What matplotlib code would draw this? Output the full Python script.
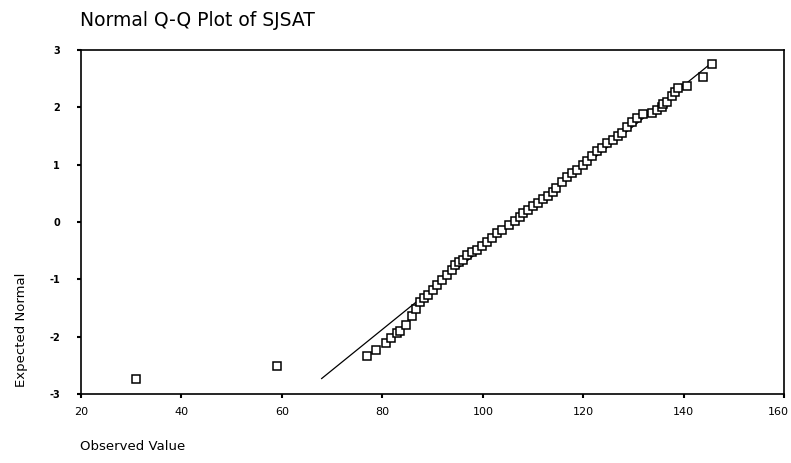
import matplotlib
matplotlib.use("Agg")
import matplotlib.pyplot as plt
import matplotlib.transforms as mtransforms
import numpy as np

plt.rcParams["axes.unicode_minus"] = False

# Data
observed = [30.95, 58.95, 76.87, 78.78, 80.71, 81.64, 82.84, 83.50, 84.69, 85.82,
            86.68, 87.48, 88.27, 89.13, 90.12, 90.80, 91.80, 92.79, 93.79, 94.44,
            95.30, 96.09, 96.77, 97.77, 98.76, 99.76, 100.75, 101.75, 102.74, 103.74,
            105.25, 106.39, 107.38, 108.04, 109.03, 110.03, 111.02, 112.02, 113.01, 114.01,
            114.55, 115.68, 116.68, 117.67, 118.67, 119.86, 120.66, 121.65, 122.77, 123.64,
            124.76, 125.83, 126.95, 127.62, 128.62, 129.61, 130.61, 131.80, 133.59, 134.59,
            135.58, 135.90, 136.58, 137.57, 138.23, 138.89, 140.56, 143.87, 145.54]
expected = [-2.74, -2.51, -2.34, -2.23, -2.11, -2.03, -1.94, -1.90, -1.80, -1.64,
            -1.51, -1.39, -1.33, -1.27, -1.19, -1.10, -1.01, -0.92, -0.84, -0.75,
            -0.69, -0.66, -0.58, -0.52, -0.48, -0.42, -0.34, -0.28, -0.20, -0.14,
            -0.05, 0.02, 0.09, 0.15, 0.21, 0.28, 0.34, 0.40, 0.46, 0.53,
            0.59, 0.70, 0.79, 0.85, 0.91, 0.99, 1.07, 1.15, 1.23, 1.29,
            1.37, 1.43, 1.50, 1.55, 1.66, 1.75, 1.81, 1.88, 1.90, 1.95,
            2.01, 2.05, 2.10, 2.19, 2.27, 2.33, 2.38, 2.53, 2.75]

# Reference line (normal with estimated mean / sd)
line_mean = 106.4
line_sd = 14.1
line_y = [-2.73, 2.76]

x_ticks = [20, 40, 60, 80, 100, 120, 140, 160]
y_ticks = [-3, -2, -1, 0, 1, 2, 3]

fig = plt.figure(figsize=(7.91, 4.63), dpi=100)
ax = fig.add_axes([0.1024, 0.149, 0.8891, 0.743])

ly = np.array(line_y)
ax.plot(line_mean + line_sd * ly, ly, color="black", linewidth=0.9, zorder=2)
ax.plot(observed, expected, linestyle="none", marker="s", markersize=5.2,
        markerfacecolor="white", markeredgecolor="black", markeredgewidth=1.1, zorder=3)

ax.set_xlim(20, 160)
ax.set_ylim(-3, 3)
ax.set_xticks(x_ticks)
ax.set_yticks(y_ticks)
ax.tick_params(axis="x", direction="out", length=3, width=1.5, labelsize=8, pad=6)
ax.tick_params(axis="y", direction="out", length=3, width=1.5, labelsize=7, pad=12)
for lab in ax.get_yticklabels():
    lab.set_fontweight("bold")
last = ax.get_xticklabels()[-1]
last.set_transform(last.get_transform() +
                   mtransforms.ScaledTranslation(-6 / 100, 0, fig.dpi_scale_trans))
for s in ax.spines.values():
    s.set_linewidth(1.2)
    s.set_color("black")

fig.text(80 / 791, 1 - 20 / 463, "Normal Q-Q Plot of SJSAT", fontsize=13.5,
         ha="left", va="center")
fig.text(80 / 791, 1 - 447 / 463, "Observed Value", fontsize=9.5, ha="left", va="center")
fig.text(22 / 791, 1 - 330 / 463, "Expected Normal", fontsize=9.5, ha="center",
         va="center", rotation=90)

fig.savefig("out.png", dpi=100)
